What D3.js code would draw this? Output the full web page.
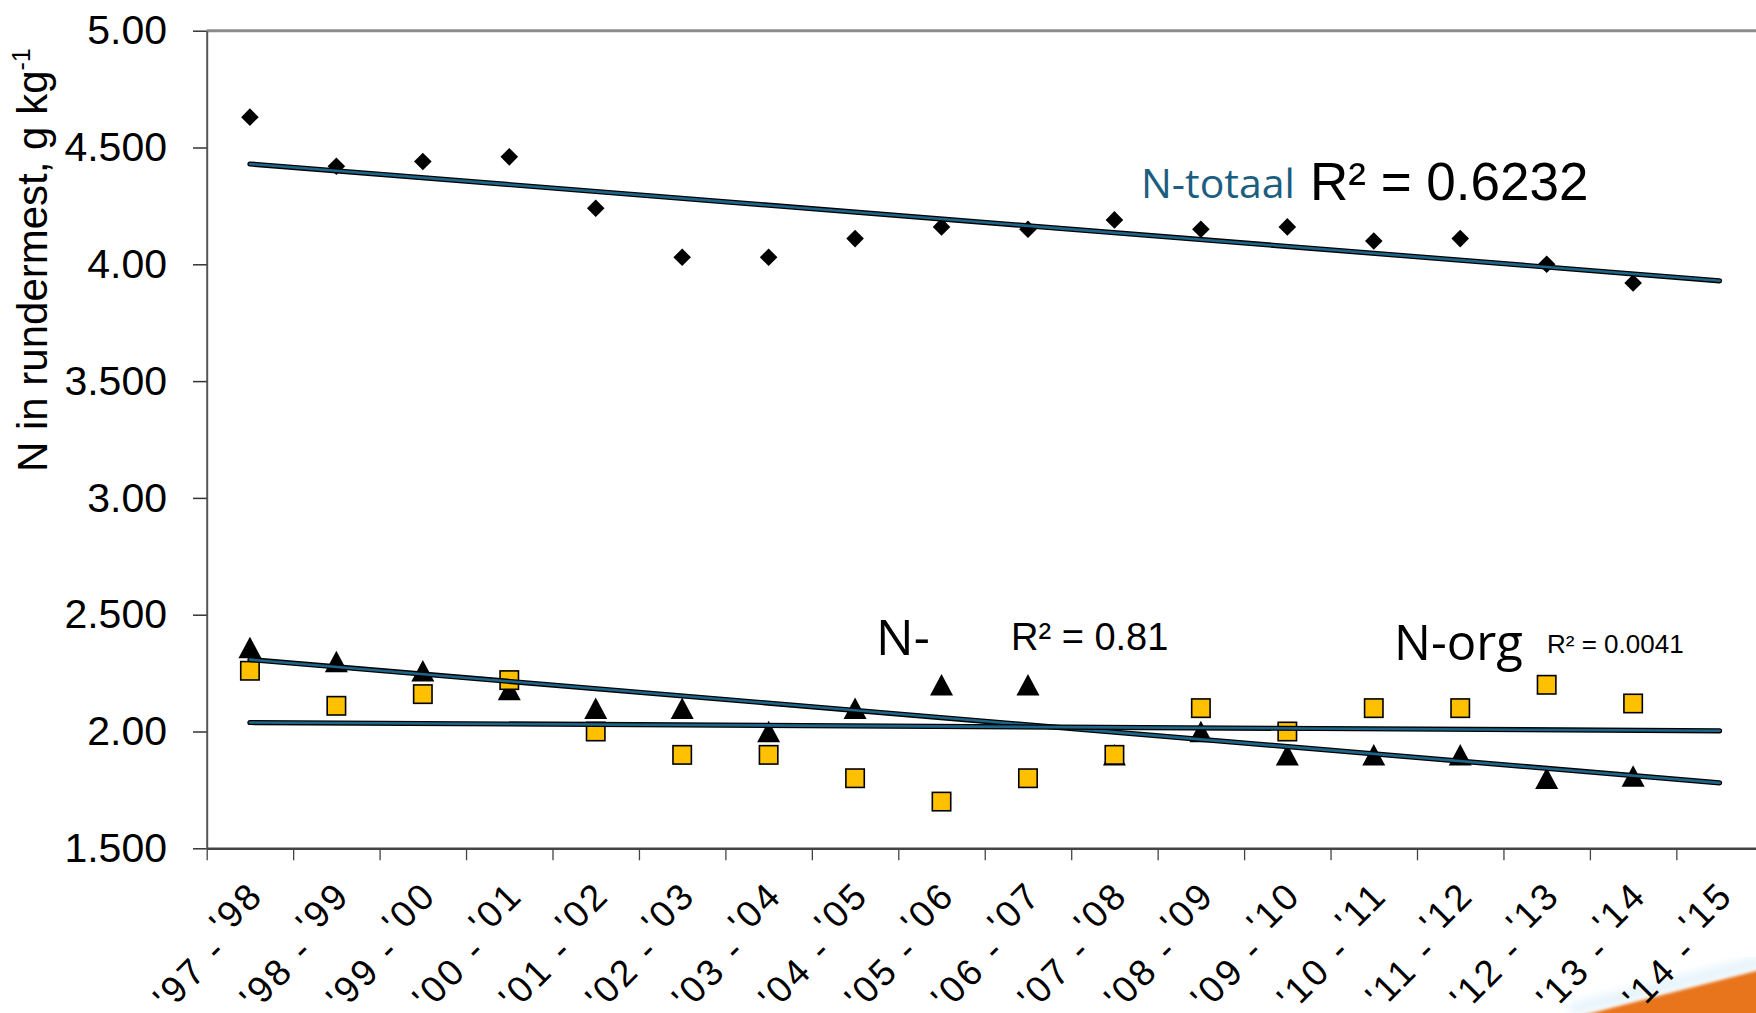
<!DOCTYPE html>
<html>
<head>
<meta charset="utf-8">
<script src="https://cdn.jsdelivr.net/npm/d3@7"></script>
<style>
  html, body { margin: 0; padding: 0; background: #fff; }
  svg { display: block; }
</style>
</head>
<body>
<svg id="chart" width="1756" height="1013"></svg>
<script>
// Seasons on the category axis
const categories = ["'97 - '98", "'98 - '99", "'99 - '00", "'00 - '01", "'01 - '02", "'02 - '03",
  "'03 - '04", "'04 - '05", "'05 - '06", "'06 - '07", "'07 - '08", "'08 - '09", "'09 - '10",
  "'10 - '11", "'11 - '12", "'12 - '13", "'13 - '14", "'14 - '15"];

// Value axis ticks and their printed labels
const yTickValues = [1.5, 2, 2.5, 3, 3.5, 4, 4.5, 5];
const yTickLabels = ["1.500", "2.00", "2.500", "3.00", "3.500", "4.00", "4.500", "5.00"];

// Nitrogen content of cattle manure, g/kg, per season ('97-'98 .. '13-'14)
const nTotaal   = [4.63, 4.42, 4.44, 4.46, 4.24, 4.03, 4.03, 4.11, 4.16, 4.15, 4.19, 4.15, 4.16, 4.10, 4.11, 4.00, 3.92];
const nMineraal = [2.36, 2.30, 2.26, 2.18, 2.10, 2.10, 2.00, 2.10, 2.20, 2.20, 1.90, 2.00, 1.90, 1.90, 1.90, 1.80, 1.81];
const nOrg      = [2.26, 2.11, 2.16, 2.22, 2.00, 1.90, 1.90, 1.80, 1.70, 1.80, 1.90, 2.10, 2.00, 2.10, 2.10, 2.20, 2.12];

const svg = d3.select("#chart");
const W = 1756, H = 1013;
svg.append("rect").attr("width", W).attr("height", H).attr("fill", "#fff");

const plotLeft = 206.7, plotTop = 30.7, plotBottom = 848.3, band = 86.45;
const x = d3.scaleLinear().domain([0, categories.length]).range([plotLeft, plotLeft + categories.length * band]);
const y = d3.scaleLinear().domain([1.5, 5]).range([plotBottom, plotTop]);
const cx = i => x(i + 0.5);

const armFont = "'Liberation Sans', Arial, sans-serif";
const sansFont = "'Open Sans', 'Noto Sans', sans-serif";

// Orange corner decoration of the slide
const defs = svg.append("defs");
defs.append("filter").attr("id", "soft").append("feGaussianBlur").attr("stdDeviation", 1.6);
defs.append("filter").attr("id", "haze").append("feGaussianBlur").attr("stdDeviation", 5);
svg.append("line")
  .attr("x1", 1570).attr("y1", 1010).attr("x2", 1760).attr("y2", 962)
  .attr("stroke", "#e4f3fb").attr("stroke-width", 12).attr("filter", "url(#haze)");
svg.append("path")
  .attr("d", "M1580,1016 L1760,970 L1760,1016 Z")
  .attr("fill", "#e8741e").attr("filter", "url(#soft)");

// Plot frame (top edge)
svg.append("line")
  .attr("x1", x(0)).attr("x2", x(categories.length))
  .attr("y1", y(5)).attr("y2", y(5))
  .attr("stroke", "#8c8c8c").attr("stroke-width", 3);

// Value axis
const yAxis = svg.append("g")
  .attr("transform", `translate(${x(0)},0)`)
  .call(d3.axisLeft(y).tickValues(yTickValues)
    .tickFormat((d, i) => yTickLabels[i])
    .tickSize(13.7).tickPadding(26).tickSizeOuter(0));
yAxis.select(".domain").attr("stroke", "#555").attr("stroke-width", 2);
yAxis.selectAll(".tick line").attr("stroke", "#333").attr("stroke-width", 1.5);
yAxis.selectAll(".tick text")
  .attr("font-family", armFont).attr("font-size", 41).attr("fill", "#000");

// Category axis with tick marks between seasons
const xAxis = svg.append("g")
  .attr("transform", `translate(0,${y(1.5)})`)
  .call(d3.axisBottom(x).tickValues(d3.range(0, categories.length + 1))
    .tickFormat("").tickSize(12).tickSizeOuter(0));
xAxis.select(".domain").attr("stroke", "#444").attr("stroke-width", 2.5);
xAxis.selectAll(".tick line").attr("stroke", "#444").attr("stroke-width", 1.3);

// Category labels: two lines, slanted 45 degrees
const catLabels = svg.append("g")
  .attr("font-family", armFont).attr("font-size", 37)
  .attr("letter-spacing", 3).attr("fill", "#000");
categories.forEach((c, i) => {
  const parts = c.split(" - ");
  catLabels.append("text")
    .attr("transform", `translate(${cx(i) + 15.5},897) rotate(-45)`)
    .attr("text-anchor", "end").text(parts[1]);
  catLabels.append("text")
    .attr("transform", `translate(${cx(i) - 20.5},952) rotate(-45)`)
    .attr("text-anchor", "end").text(parts[0] + " -");
});

// Value axis title
const title = svg.append("text")
  .attr("transform", "translate(47,472) rotate(-90)")
  .attr("font-family", armFont).attr("font-size", 42).attr("fill", "#000");
title.append("tspan").text("N in rundermest, g kg");
title.append("tspan").attr("font-size", 25).attr("dy", -17).text("-1");

// Least-squares trend over seasons 1..n, extended by one season
function trend(vals) {
  const n = vals.length;
  const xs = d3.range(1, n + 1);
  const mx = d3.mean(xs), my = d3.mean(vals);
  const sxy = d3.sum(xs, (xi, k) => (xi - mx) * (vals[k] - my));
  const sxx = d3.sum(xs, xi => (xi - mx) ** 2);
  const b = sxy / sxx, a = my - b * mx;
  return [1, n + 1].map(t => [t, a + b * t]);
}

// Markers
const tri = (px, py, w, h) => `M${px},${py - h / 2}L${px + w / 2},${py + h / 2}L${px - w / 2},${py + h / 2}Z`;
svg.append("g").selectAll("path").data(nMineraal).join("path")
  .attr("d", (d, i) => tri(cx(i), y(d), 23, 21.5))
  .attr("fill", "#000");

svg.append("g").selectAll("rect").data(nOrg).join("rect")
  .attr("x", (d, i) => cx(i) - 9.2).attr("y", d => y(d) - 9.2)
  .attr("width", 18.4).attr("height", 18.4)
  .attr("fill", "#ffc000").attr("stroke", "#000").attr("stroke-width", 1.6);

svg.append("g").selectAll("path").data(nTotaal).join("path")
  .attr("d", (d, i) => {
    const px = cx(i), py = y(d), r = 8.8;
    return `M${px},${py - r}L${px + r},${py}L${px},${py + r}L${px - r},${py}Z`;
  })
  .attr("fill", "#000");

// Trend lines
const trendLine = d3.line().x(p => cx(p[0] - 1)).y(p => y(p[1]));
[nTotaal, nMineraal, nOrg].forEach(vals => {
  const pts = trend(vals);
  svg.append("path").attr("d", trendLine(pts)).attr("fill", "none")
    .attr("stroke", "#000").attr("stroke-width", 5.2).attr("stroke-linecap", "round");
  svg.append("path").attr("d", trendLine(pts)).attr("fill", "none")
    .attr("stroke", "#1d6689").attr("stroke-width", 2.6).attr("stroke-linecap", "round");
});

// Series names and fit statistics
svg.append("text").attr("x", 1141).attr("y", 198)
  .attr("font-family", sansFont).attr("font-size", 41).attr("fill", "#1b5e80").text("N-totaal");
svg.append("text").attr("x", 1310).attr("y", 200)
  .attr("font-family", armFont).attr("font-size", 53).attr("fill", "#000").text("R² = 0.6232");

svg.append("text").attr("x", 876).attr("y", 655)
  .attr("font-family", sansFont).attr("font-size", 50).attr("fill", "#000").text("N-");
svg.append("text").attr("x", 1011).attr("y", 650)
  .attr("font-family", armFont).attr("font-size", 38).attr("fill", "#000").text("R² = 0.81");

svg.append("text").attr("x", 1394).attr("y", 660)
  .attr("font-family", sansFont).attr("font-size", 49).attr("fill", "#000").text("N-org");
svg.append("text").attr("x", 1547).attr("y", 653)
  .attr("font-family", armFont).attr("font-size", 26).attr("fill", "#000").text("R² = 0.0041");
</script>
</body>
</html>
